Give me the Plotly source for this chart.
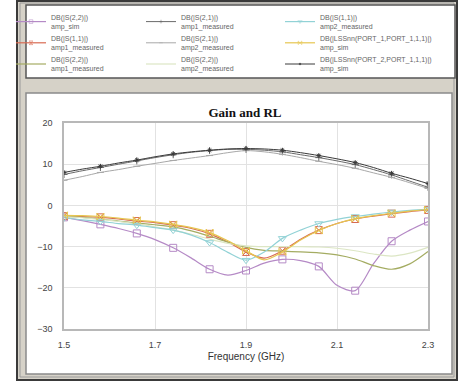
import plotly.graph_objects as go

W, H = 465, 383

freq = [1.50, 1.54, 1.58, 1.62, 1.66, 1.70, 1.74, 1.78, 1.82, 1.86, 1.90,
        1.94, 1.98, 2.02, 2.06, 2.10, 2.14, 2.18, 2.22, 2.26, 2.30]

s22_amp_sim = [-2.9, -3.7, -4.6, -5.6, -6.8, -8.3, -10.3, -12.8, -15.5, -16.9, -15.8,
               -14.0, -13.1, -13.4, -14.8, -19.4, -20.7, -14.2, -8.7, -6.0, -3.9]
s21_amp1_meas = [7.5, 8.4, 9.2, 10.0, 10.8, 11.6, 12.3, 12.9, 13.3, 13.6, 13.6,
                 13.4, 13.0, 12.3, 11.6, 10.8, 9.9, 8.7, 7.4, 5.9, 4.4]
s11_amp2_meas = [-3.0, -3.5, -3.9, -4.4, -4.8, -5.4, -6.0, -7.2, -9.0, -11.4, -13.3,
                 -11.3, -8.0, -6.0, -4.4, -3.4, -2.7, -2.1, -1.6, -1.2, -0.9]
s11_amp1_meas = [-2.6, -2.7, -2.9, -3.3, -3.8, -4.2, -4.8, -5.6, -6.9, -8.9, -11.3,
                 -12.8, -11.0, -8.2, -6.0, -4.4, -3.3, -2.6, -2.0, -1.5, -1.1]
s21_amp2_meas = [6.1, 7.0, 8.0, 8.7, 9.5, 10.2, 10.9, 11.5, 12.1, 12.8, 13.3,
                 13.0, 12.4, 11.6, 10.7, 9.9, 9.0, 7.9, 6.8, 5.5, 4.1]
lss11_amp_sim = [-2.4, -2.5, -2.7, -3.1, -3.6, -4.0, -4.6, -5.4, -6.6, -8.6, -11.0,
                 -13.2, -11.3, -8.4, -6.1, -4.4, -3.2, -2.5, -1.9, -1.4, -1.0]
s22_amp1_meas = [-2.6, -2.9, -3.3, -3.8, -4.3, -4.7, -5.2, -6.2, -7.5, -8.9, -10.2,
                 -10.9, -11.1, -11.3, -11.5, -12.0, -13.0, -14.6, -15.5, -14.2, -11.2]
s22_amp2_meas = [-2.7, -3.0, -3.4, -3.9, -4.5, -5.2, -6.0, -7.0, -8.2, -9.2, -9.8,
                 -10.0, -10.0, -10.0, -10.1, -10.4, -11.0, -11.8, -12.3, -11.6, -10.2]
lss21_amp_sim = [8.0, 8.8, 9.5, 10.3, 11.0, 11.8, 12.5, 13.0, 13.4, 13.7, 13.8,
                 13.7, 13.4, 12.8, 12.1, 11.3, 10.4, 9.2, 7.8, 6.6, 5.3]

# (label, values, color, marker symbol, marker size, line width, legend column)
series = [
    ("DB(|S(2,2)|)<br>amp_sim", s22_amp_sim, "#b58ac6", "square-open", 7, 1.2, "legend"),
    ("DB(|S(1,1)|)<br>amp1_measured", s11_amp1_meas, "#d86a52", "hourglass-open", 7, 1.2, "legend"),
    ("DB(|S(2,2)|)<br>amp1_measured", s22_amp1_meas, "#a4ac62", None, 0, 1.2, "legend"),
    ("DB(|S(2,1)|)<br>amp1_measured", s21_amp1_meas, "#6a6a6a", "cross-thin-open", 5, 1.0, "legend2"),
    ("DB(|S(2,1)|)<br>amp2_measured", s21_amp2_meas, "#a8a8a8", "line-ew-open", 5, 1.0, "legend2"),
    ("DB(|S(2,2)|)<br>amp2_measured", s22_amp2_meas, "#dce6c4", None, 0, 1.2, "legend2"),
    ("DB(|S(1,1)|)<br>amp2_measured", s11_amp2_meas, "#92d2d6", "triangle-down-open", 7, 1.2, "legend3"),
    ("DB(|LSSnn(PORT_1,PORT_1,1,1)|)<br>amp_sim", lss11_amp_sim, "#e6c650", "bowtie-open", 7, 1.2, "legend3"),
    ("DB(|LSSnn(PORT_2,PORT_1,1,1)|)<br>amp_sim", lss21_amp_sim, "#3a3a3a", "asterisk-open", 4, 1.0, "legend3"),
]

fig = go.Figure()
n = len(freq)
for name, vals, col, sym, ms, lw, leg in series:
    if sym is None:
        fig.add_trace(go.Scatter(x=freq, y=vals, name=name, mode="lines", legend=leg,
                                 line=dict(color=col, width=lw, shape="spline", smoothing=0.8)))
    else:
        sizes = [ms if i % 2 == 0 else 0 for i in range(n)]
        opac = [1 if i % 2 == 0 else 0 for i in range(n)]
        fig.add_trace(go.Scatter(x=freq, y=vals, name=name, mode="lines+markers", legend=leg,
                                 line=dict(color=col, width=lw, shape="spline", smoothing=0.8),
                                 marker=dict(symbol=sym, size=sizes, opacity=opac, color=col,
                                             line=dict(color=col, width=1))))

def px(x):
    return x / W

def py(y):
    return 1 - y / H

shapes = [
    # outer frame
    dict(type="rect", xref="paper", yref="paper", x0=px(17), x1=px(457), y0=py(380), y1=py(1),
         fillcolor="#d6d2c8", line=dict(color="#3a3a3a", width=2), layer="below"),
    dict(type="rect", xref="paper", yref="paper", x0=px(20), x1=px(454), y0=py(377), y1=py(3),
         fillcolor="rgba(0,0,0,0)", line=dict(color="#9a9a9a", width=1), layer="below"),
    # legend box
    dict(type="rect", xref="paper", yref="paper", x0=px(26), x1=px(455), y0=py(78), y1=py(5),
         fillcolor="#ffffff", line=dict(color="#555555", width=1.5), layer="below"),
    # chart panel
    dict(type="rect", xref="paper", yref="paper", x0=px(26), x1=px(452), y0=py(374), y1=py(93),
         fillcolor="#ffffff", line=dict(color="#8a8a8a", width=1.5), layer="below"),
]

def leg(xpix):
    return dict(orientation="v", x=px(xpix), y=py(6), xanchor="left", yanchor="top",
                bgcolor="rgba(0,0,0,0)", borderwidth=0,
                font=dict(size=7, color="#666666"), itemwidth=30, traceorder="normal")

fig.update_layout(
    width=W, height=H,
    margin=dict(l=0, r=0, t=0, b=0, autoexpand=False),
    paper_bgcolor="#ffffff",
    plot_bgcolor="#ffffff",
    shapes=shapes,
    title=dict(text="<b>Gain and RL</b>", x=245 / W, y=py(112), xanchor="center", yanchor="middle",
               font=dict(family="Liberation Serif, Times New Roman, serif", size=13, color="#111111")),
    font=dict(family="Liberation Sans, Arial, sans-serif", color="#444444"),
    legend=leg(11),
    legend2=leg(141),
    legend3=leg(280),
    xaxis=dict(domain=[px(64), px(428)], range=[1.5, 2.3], tickvals=[1.5, 1.7, 1.9, 2.1, 2.3],
               ticktext=["1.5", "1.7", "1.9", "2.1", "2.3"],
               showgrid=True, gridcolor="#e2e2e2", gridwidth=1, zeroline=False,
               showline=True, mirror=True, linecolor="#b8b8b8", linewidth=1.5,
               ticks="", ticklabelstandoff=6, tickfont=dict(size=9, color="#444444"),
               title=dict(text="Frequency (GHz)", font=dict(size=10, color="#333333"), standoff=4)),
    yaxis=dict(domain=[py(329), py(123)], range=[-30, 20], tickvals=[-30, -20, -10, 0, 10, 20],
               showgrid=True, gridcolor="#e2e2e2", gridwidth=1, zeroline=False,
               showline=True, mirror=True, linecolor="#b8b8b8", linewidth=1.5,
               ticks="", ticklabelstandoff=8, tickfont=dict(size=9, color="#444444")),
)

fig.write_html("out.html")
